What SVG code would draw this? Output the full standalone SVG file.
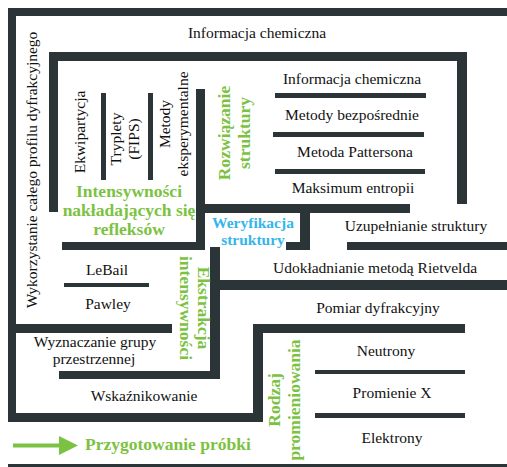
<svg xmlns="http://www.w3.org/2000/svg" width="507" height="467" viewBox="0 0 507 467">
<style>
.w{fill:#2b3537}
.t{font-family:"Liberation Serif",serif;font-size:15.5px;fill:#111;text-anchor:middle}
.g{font-family:"Liberation Serif",serif;font-size:17.5px;font-weight:bold;fill:#7cc242;text-anchor:middle}
.c{font-family:"Liberation Serif",serif;font-size:15.5px;font-weight:bold;fill:#35b6ea;text-anchor:middle}
</style>
<rect width="507" height="467" fill="#fff"/>
<g id="walls">
<rect class="w" x="8" y="8" width="499" height="8"/>
<rect class="w" x="8" y="8" width="8" height="414"/>
<rect class="w" x="8" y="413" width="255" height="9"/>
<rect class="w" x="49" y="52" width="418" height="9"/>
<rect class="w" x="49" y="52" width="9" height="160"/>
<rect class="w" x="457" y="52" width="10" height="152"/>
<rect class="w" x="101" y="93" width="5" height="87"/>
<rect class="w" x="148" y="93" width="5" height="87"/>
<rect class="w" x="196" y="89" width="9" height="161"/>
<rect class="w" x="62" y="242" width="143" height="8"/>
<rect class="w" x="275" y="93" width="151" height="5"/>
<rect class="w" x="273" y="132" width="151" height="5"/>
<rect class="w" x="275" y="169" width="150" height="5"/>
<rect class="w" x="197" y="204" width="213" height="9"/>
<rect class="w" x="300" y="204" width="10" height="46"/>
<rect class="w" x="286" y="242" width="24" height="8"/>
<rect class="w" x="347" y="242" width="160" height="8"/>
<rect class="w" x="210" y="247" width="10" height="132"/>
<rect class="w" x="210" y="280" width="297" height="10"/>
<rect class="w" x="64" y="283" width="85" height="4"/>
<rect class="w" x="16" y="324" width="156" height="9"/>
<rect class="w" x="59" y="371" width="161" height="8"/>
<rect class="w" x="253" y="324" width="212" height="9"/>
<rect class="w" x="253" y="324" width="10" height="98"/>
<rect class="w" x="315" y="370" width="150" height="4"/>
<rect class="w" x="315" y="413" width="150" height="5"/>
<rect class="w" x="8" y="464" width="499" height="3"/>
</g>
<g font-family="Liberation Serif, serif">
<g id="n-info-top"><text class="t" x="257" y="38">Informacja chemiczna</text></g>
<g id="n-wykorzystanie"><text class="t" transform="translate(37,170) rotate(-90)">Wykorzystanie całego profilu dyfrakcyjnego</text></g>
<g id="n-ekwipartycja"><text class="t" transform="translate(85,132) rotate(-90)">Ekwipartycja</text></g>
<g id="n-tryplety"><text class="t" transform="translate(121,139) rotate(-90)">Tryplety</text><text class="t" transform="translate(139,139) rotate(-90)">(FIPS)</text></g>
<g id="n-metody-eksp"><text class="t" transform="translate(170,124) rotate(-90)">Metody</text><text class="t" transform="translate(188,124) rotate(-90)">eksperymentalne</text></g>
<g id="n-rozwiazanie"><text class="g" transform="translate(230,133) rotate(-90)">Rozwiązanie</text><text class="g" transform="translate(250,133) rotate(-90)">struktury</text></g>
<g id="n-info-inner"><text class="t" x="352" y="84">Informacja chemiczna</text></g>
<g id="n-metody-bezp"><text class="t" x="352" y="120">Metody bezpośrednie</text></g>
<g id="n-patterson"><text class="t" x="355" y="157">Metoda Pattersona</text></g>
<g id="n-maksimum"><text class="t" x="353" y="193">Maksimum entropii</text></g>
<g id="n-intensywnosci"><text class="g" x="129" y="197">Intensywności</text><text class="g" x="129" y="216">nakładających się</text><text class="g" x="129" y="235">refleksów</text></g>
<g id="n-weryfikacja"><text class="c" x="253" y="228">Weryfikacja</text><text class="c" x="253" y="245">struktury</text></g>
<g id="n-uzupelnianie"><text class="t" x="416" y="231">Uzupełnianie struktury</text></g>
<g id="n-udokladnianie"><text class="t" x="375" y="273">Udokładnianie metodą Rietvelda</text></g>
<g id="n-lebail"><text class="t" x="107" y="275">LeBail</text></g>
<g id="n-pawley"><text class="t" x="108" y="309">Pawley</text></g>
<g id="n-ekstrakcja"><text class="g" transform="translate(198,308) rotate(90)">Ekstrakcja</text><text class="g" transform="translate(180,308) rotate(90)">intensywności</text></g>
<g id="n-pomiar"><text class="t" x="378" y="313">Pomiar dyfrakcyjny</text></g>
<g id="n-wyznaczanie"><text class="t" x="95" y="347">Wyznaczanie grupy</text><text class="t" x="94" y="364">przestrzennej</text></g>
<g id="n-neutrony"><text class="t" x="386" y="356">Neutrony</text></g>
<g id="n-promienie"><text class="t" x="392" y="398">Promienie X</text></g>
<g id="n-elektrony"><text class="t" x="392" y="443">Elektrony</text></g>
<g id="n-wskaznikowanie"><text class="t" x="144" y="401">Wskaźnikowanie</text></g>
<g id="n-rodzaj"><text class="g" transform="translate(280,400) rotate(-90)">Rodzaj</text><text class="g" transform="translate(300,400) rotate(-90)">promieniowania</text></g>
<g id="n-przygotowanie"><text class="g" x="85" y="450" style="text-anchor:start">Przygotowanie próbki</text></g>
</g>
<g id="connectors">
<line x1="13" y1="445.5" x2="61" y2="445.5" stroke="#7cc242" stroke-width="4"/>
<polygon points="59,436 78,445.5 59,455" fill="#7cc242"/>
</g>
</svg>
